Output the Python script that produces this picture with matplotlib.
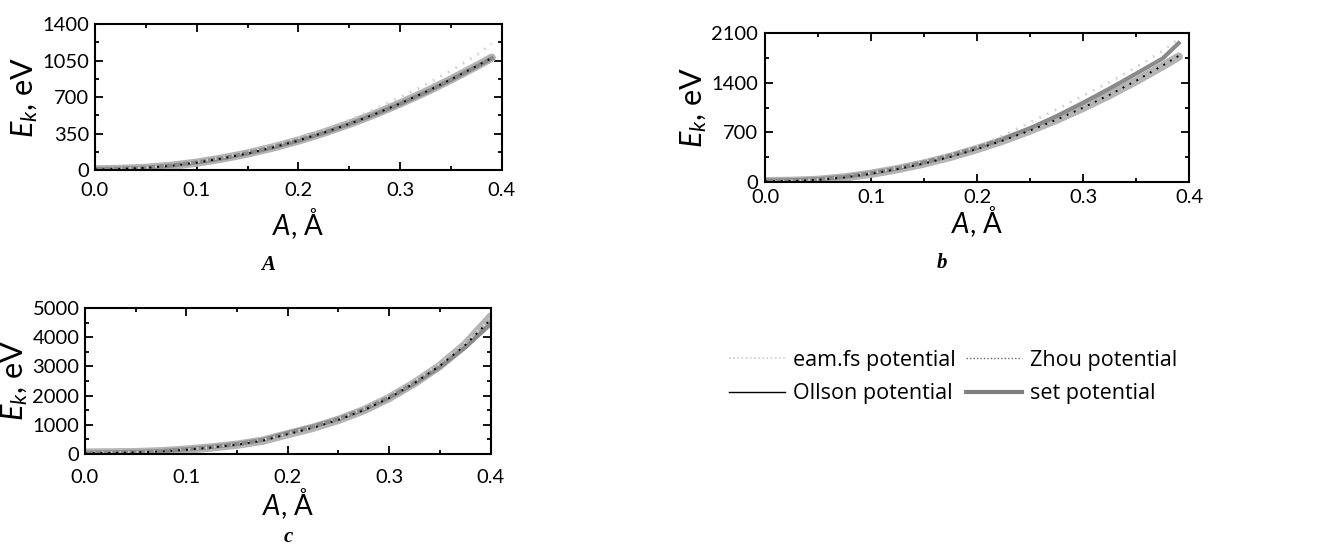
import matplotlib
matplotlib.use("Agg")
import matplotlib.pyplot as plt
from matplotlib.lines import Line2D
from matplotlib.ticker import MultipleLocator

plt.rcParams['font.family'] = ['Lato', 'DejaVu Sans']
plt.rcParams['mathtext.fontset'] = 'custom'
plt.rcParams['mathtext.it'] = 'Lato:italic'
plt.rcParams['mathtext.rm'] = 'Lato'

# amplitude, Angstrom
amp_ab = [0, .025, .05, .075, .1, .125, .15, .175, .2, .225, .25, .275, .3, .325, .35, .375, .39]
amp_c = [0, .025, .05, .075, .1, .125, .15, .175, .2, .225, .25, .275, .3, .325, .35, .375, .4]

# panel A
eam_a = [8, 13, 25, 47, 80, 123, 176, 238, 310, 392, 482, 585, 700, 820, 955, 1100, 1215]
zhou_a = [8, 12, 22, 42, 72, 112, 160, 218, 284, 360, 444, 537, 640, 750, 870, 998, 1075]
ollson_a = [8, 12, 22, 42, 72, 112, 160, 218, 284, 360, 444, 537, 640, 750, 870, 998, 1078]
set_a = [10, 14, 24, 44, 74, 113, 161, 218, 283, 358, 442, 535, 636, 746, 866, 993, 1072]

# panel b
eam_b = [10, 16, 35, 72, 130, 200, 290, 390, 500, 660, 840, 1025, 1220, 1410, 1620, 1850, 2020]
zhou_b = [10, 14, 29, 65, 116, 182, 262, 356, 466, 589, 728, 880, 1050, 1232, 1430, 1645, 1780]
ollson_b = [12, 16, 30, 65, 116, 182, 262, 356, 466, 589, 728, 880, 1048, 1230, 1426, 1637, 1770]
set_b = [20, 25, 40, 72, 125, 192, 275, 372, 482, 610, 760, 930, 1120, 1320, 1530, 1745, 1960]

# panel c
eam_c = [40, 48, 62, 95, 155, 235, 340, 480, 700, 930, 1210, 1560, 2000, 2500, 3100, 3800, 4650]
zhou_c = [30, 38, 55, 88, 145, 222, 320, 455, 680, 900, 1170, 1500, 1920, 2430, 3020, 3730, 4600]
ollson_c = [50, 55, 65, 95, 150, 225, 320, 455, 680, 900, 1170, 1500, 1920, 2430, 3020, 3750, 4700]
set_c = [45, 52, 66, 100, 160, 240, 340, 480, 720, 940, 1200, 1520, 1930, 2420, 2980, 3650, 4450]

yticks_a = [0, 350, 700, 1050, 1400]
yticks_b = [0, 700, 1400, 2100]
yticks_c = [0, 1000, 2000, 3000, 4000, 5000]

fig = plt.figure(figsize=(13.17, 5.49), dpi=100)

ax_a = fig.add_axes([0.0721, 0.690, 0.309, 0.266])
ax_b = fig.add_axes([0.581, 0.6685, 0.322, 0.271])
ax_c = fig.add_axes([0.0645, 0.173, 0.308, 0.266])


def draw(ax, x, eam, zhou, ollson, setp, yticks, ymax, xtpad, ytpad, xpad):
    ax.plot(x, ollson, color='#b4b4b4', lw=6, solid_capstyle='round')
    ax.plot(x, setp, color='#8a8a8a', lw=3)
    ax.plot(x, eam, color='#d0d0d0', lw=2, ls=(0, (0.6, 2.5)))
    ax.plot(x, zhou, color='black', lw=1.4, ls=(0, (1, 3)))
    ax.set_xlim(0, 0.4)
    ax.set_ylim(0, ymax)
    ax.set_xticks([0.0, 0.1, 0.2, 0.3, 0.4])
    ax.set_xticklabels(['0.0', '0.1', '0.2', '0.3', '0.4'])
    ax.set_yticks(yticks)
    ax.xaxis.set_minor_locator(MultipleLocator(0.05))
    ax.yaxis.set_minor_locator(MultipleLocator(yticks[1] / 2))
    ax.tick_params(which='both', direction='in', top=True, right=True,
                   labelsize=14.5, width=1.3)
    ax.tick_params(which='major', length=6)
    ax.tick_params(which='minor', length=3)
    ax.tick_params(axis='x', which='major', pad=xtpad)
    ax.tick_params(axis='y', which='major', pad=ytpad)
    for s in ax.spines.values():
        s.set_linewidth(1.5)
    ax.set_ylabel(r'$E_k$, eV', fontsize=22, labelpad=2)
    ax.set_xlabel(r'$A$, Å', fontsize=20, labelpad=xpad)


draw(ax_a, amp_ab, eam_a, zhou_a, ollson_a, set_a, yticks_a, 1400, 8.5, 4, 5)
draw(ax_b, amp_ab, eam_b, zhou_b, ollson_b, set_b, yticks_b, 2100, 5, 5, -1)
draw(ax_c, amp_c, eam_c, zhou_c, ollson_c, set_c, yticks_c, 5000, 10.5, 4, 0)

# panel letters
for lbl, px, py in [('A', 268, 265), ('b', 942, 263), ('c', 288, 537)]:
    fig.text(px / 1317, 1 - py / 549, lbl, fontsize=15, fontweight='bold',
             fontstyle='italic', family='Liberation Serif', ha='center', va='center')

handles = [
    Line2D([], [], color='#cccccc', lw=1.2, ls=(0, (1, 1.5))),
    Line2D([], [], color='black', lw=1.0),
    Line2D([], [], color='#666666', lw=1.0, ls=(0, (1, 1.5))),
    Line2D([], [], color='#808080', lw=3),
]
labels = ['eam.fs potential', 'Ollson potential', 'Zhou potential', 'set potential']
fig.legend(handles, labels, ncol=2, frameon=False, prop={'family': 'Open Sans', 'size': 15.5},
           loc='center', bbox_to_anchor=(953 / 1317, 1 - 377 / 549),
           handlelength=2.6, handletextpad=0.35, columnspacing=0.5,
           labelspacing=0.6)

fig.savefig('out.png', dpi=100)
